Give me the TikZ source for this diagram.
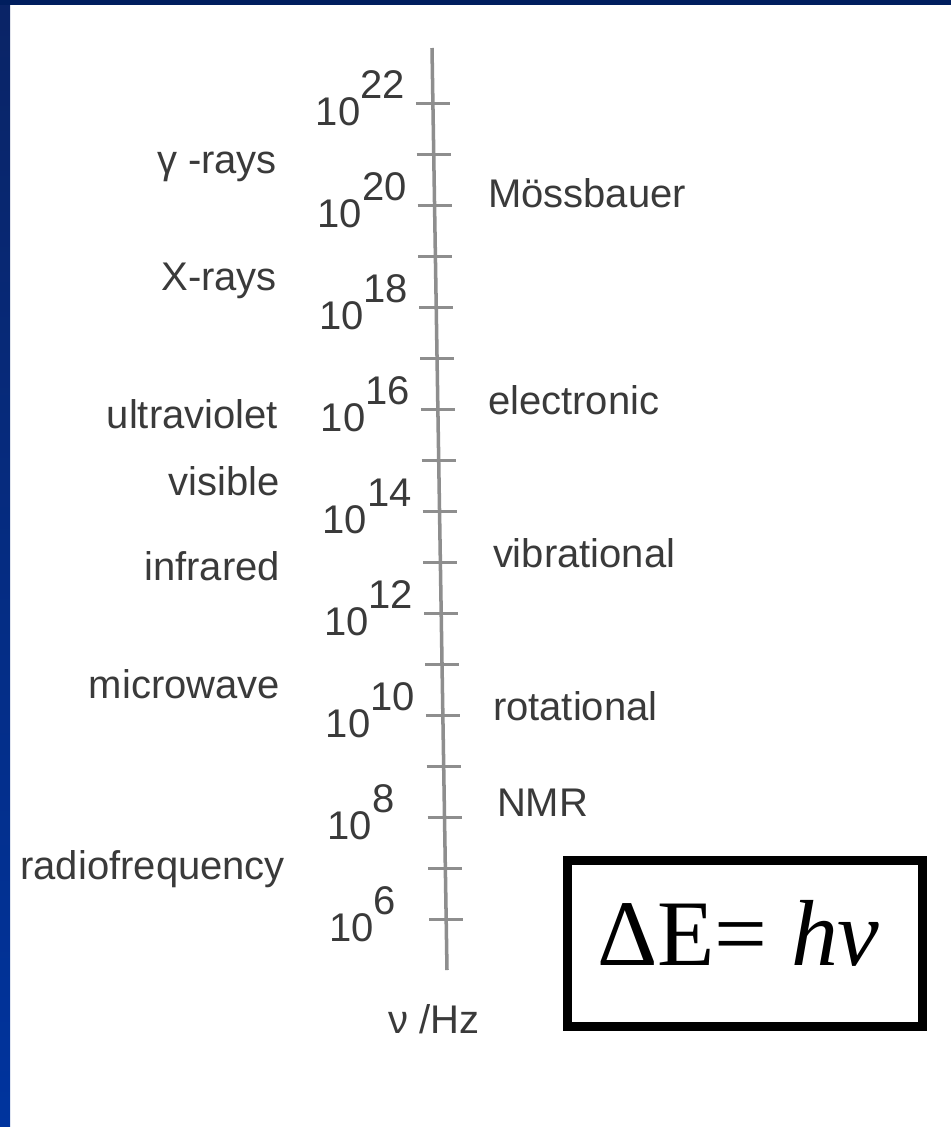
\documentclass[tikz,border=0pt]{standalone}
\usepackage{fontspec}
\setmainfont{Liberation Sans}
\newfontfamily\eqfont{Liberation Serif}
\definecolor{labeltext}{HTML}{3A3A3A}
\definecolor{axisgray}{HTML}{8E8E8E}
\definecolor{topband}{HTML}{001E5E}
\definecolor{sidetop}{HTML}{0A2466}
\definecolor{sidebot}{HTML}{00349E}
\begin{document}
\begin{tikzpicture}[x=0.1mm,y=-0.1mm,
  lbl/.style={inner sep=0pt, outer sep=0pt, text=labeltext, font=\fontsize{11.38}{13}\selectfont},
  axisline/.style={draw=axisgray, line width=1pt},
  tickmark/.style={draw=axisgray, line width=0.85pt},
  eqbox/.style={draw=black, line width=2.56pt, inner sep=0pt, minimum width=35.5mm, minimum height=16.6mm},
  eqtext/.style={inner sep=0pt, outer sep=0pt, text=black, font=\eqfont\fontsize{26.7}{30}\selectfont}]

\useasboundingbox (0,0) rectangle (951,1127);
\fill[white] (0,0) rectangle (951,1127);
\shade[top color=sidetop, bottom color=sidebot] (0,0) rectangle (10,1127);
\fill[topband] (0,0) rectangle (951,5);

% axis
\coordinate (axtop) at (432,48);
\coordinate (axbot) at (447,970);
\draw[axisline] (axtop) -- (axbot);

% ticks
\foreach \i in {0,...,16}{
  \pgfmathsetmacro\ty{103+51*\i}
  \pgfmathsetmacro\tx{432+(\ty-48)*15/922}
  \coordinate (t\i) at (\tx,\ty);
  \draw[tickmark] ([xshift=-1.7mm]t\i) -- ([xshift=1.7mm]t\i);
}

% exponent labels
\foreach \i in {0,2,...,16}{
  \pgfmathtruncatemacro\e{22-\i}
  \node[lbl, anchor=base west] (exp\i) at ([xshift=-11.7mm, yshift=-2.2mm]t\i) {10\raisebox{2.7mm}{\e}};
}

% left labels
\node[lbl, anchor=base east] (gamma) at (277,173) {γ -rays};
\node[lbl, anchor=base east] (xray)  at (277,290) {X-rays};
\node[lbl, anchor=base east] (uv)    at (278,428) {ultraviolet};
\node[lbl, anchor=base east] (vis)   at (280,495) {visible};
\node[lbl, anchor=base east] (ir)    at (280,580) {infrared};
\node[lbl, anchor=base east] (mw)    at (280,698) {microwave};
\node[lbl, anchor=base east] (rf)    at (285,879) {radiofrequency};

% right labels
\node[lbl, anchor=base west] (moss) at (488,207) {Mössbauer};
\node[lbl, anchor=base west] (elec) at (488,414) {electronic};
\node[lbl, anchor=base west] (vib)  at (493,567) {vibrational};
\node[lbl, anchor=base west] (rot)  at (493,720) {rotational};
\node[lbl, anchor=base west] (nmr)  at (497,816) {NMR};

% axis unit
\node[lbl, anchor=base west] (unit) at (388,1033) {ν /Hz};

% equation box
\node[eqbox] (box) at (744.5,943) {};
\node[eqtext, anchor=base west] (eq) at (597,965) {ΔE= \textit{hν}};
\end{tikzpicture}
\end{document}
